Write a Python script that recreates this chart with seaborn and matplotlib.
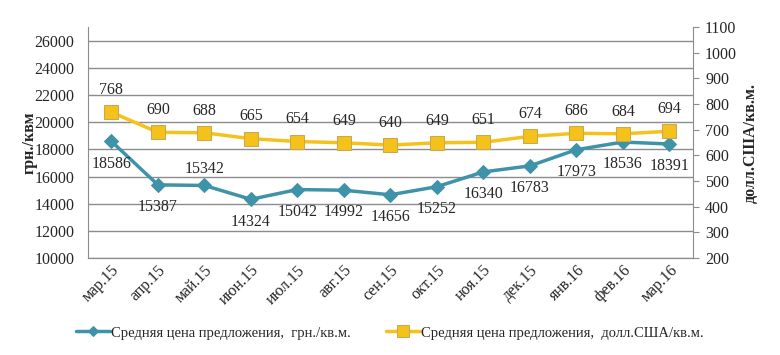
import matplotlib
matplotlib.use("Agg")
import matplotlib.pyplot as plt
import seaborn as sns
import pandas as pd

# месяцы
months = ["мар.15", "апр.15", "май.15", "июн.15", "июл.15", "авг.15", "сен.15",
          "окт.15", "ноя.15", "дек.15", "янв.16", "фев.16", "мар.16"]
price_uah = [18586, 15387, 15342, 14324, 15042, 14992, 14656,
             15252, 16340, 16783, 17973, 18536, 18391]
price_usd = [768, 690, 688, 665, 654, 649, 640, 649, 651, 674, 686, 684, 694]

lab_uah = "Средняя цена предложения,  грн./кв.м."
lab_usd = "Средняя цена предложения,  долл.США/кв.м."

df = pd.DataFrame({"month": months, "uah": price_uah, "usd": price_usd})

sns.set_style("white")
plt.rcParams["font.family"] = ["Liberation Serif", "DejaVu Serif"]

blue = "#3E93A8"
yellow = "#F5C21B"
fs = 11.5

fig = plt.figure(figsize=(7.8, 3.55), dpi=100)
ax = fig.add_axes([0.113, 0.273, 0.775, 0.651])
ax2 = ax.twinx()

sns.lineplot(data=df, x="month", y="uah", ax=ax, color=blue, lw=2.5,
             marker="D", markersize=7, markeredgecolor=blue, label=lab_uah,
             sort=False, legend=False)
sns.lineplot(data=df, x="month", y="usd", ax=ax2, color=yellow, lw=2.5,
             marker="s", markersize=10, markeredgecolor="#C8A850", label=lab_usd,
             sort=False, legend=False)

ax.set_xlim(-0.5, len(months) - 0.5)
ax.set_ylim(10000, 27000)
ax.set_yticks(range(10000, 26001, 2000))
ax2.set_ylim(200, 1100)
ax2.set_yticks(range(200, 1101, 100))

ax.grid(axis="y", color="#8C8C8C", lw=1)
ax.set_axisbelow(True)
for a in (ax, ax2):
    a.spines["top"].set_visible(False)
    for s in ("left", "right", "bottom"):
        a.spines[s].set_color("#8C8C8C")
ax2.spines["left"].set_visible(False)
ax.spines["right"].set_visible(False)

ax.tick_params(axis="y", length=0, labelsize=fs, pad=10)
ax2.tick_params(axis="y", length=4, color="#8C8C8C", labelsize=fs, pad=5)
ax.tick_params(axis="x", length=0, labelsize=fs, pad=3)
plt.setp(ax.get_xticklabels(), rotation=45, ha="right", rotation_mode="anchor")

ax.set_xlabel("")
ax.set_ylabel("грн./квм", fontweight="bold", fontsize=11.5)
ax.yaxis.set_label_coords(-0.083, 0.5)
ax2.set_ylabel("долл.США/кв.м.", fontweight="bold", fontsize=11.5)
ax2.yaxis.set_label_coords(1.083, 0.5)

for i, v in enumerate(price_uah):
    dy = 12 if i == 2 else -16
    ax.annotate(str(v), (i, v), xytext=(0, dy), textcoords="offset points",
                ha="center", va="center", fontsize=fs)
for i, v in enumerate(price_usd):
    ax2.annotate(str(v), (i, v), xytext=(0, 16), textcoords="offset points",
                 ha="center", va="center", fontsize=fs)

h1, l1 = ax.get_legend_handles_labels()
h2, l2 = ax2.get_legend_handles_labels()
fig.legend(h1 + h2, [lab_uah, lab_usd], loc="center", bbox_to_anchor=(0.5, 0.062),
           ncol=2, frameon=False, fontsize=10.5, handlelength=2.3, handletextpad=0.1,
           columnspacing=2.4, markerscale=0.8)

fig.savefig("out.png", dpi=100)
